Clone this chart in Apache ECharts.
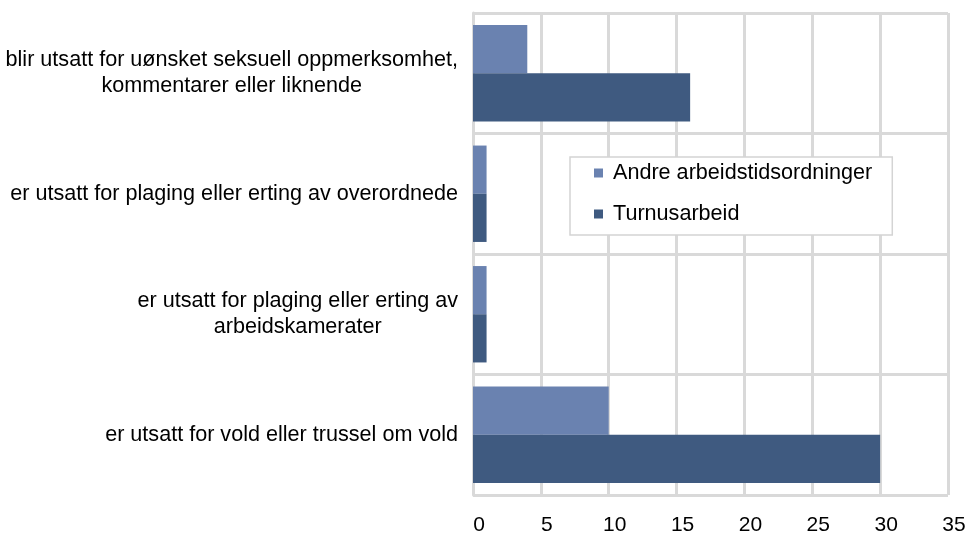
<!DOCTYPE html>
<html>
<head>
<meta charset="utf-8">
<script src="https://cdn.jsdelivr.net/npm/echarts@6/dist/echarts.min.js"></script>
<style>
  html, body { margin: 0; padding: 0; background: #ffffff; }
  #chart { width: 968px; height: 534px; }
</style>
</head>
<body>
<div id="chart"></div>
<script>
// Categories, listed top to bottom
const categories = [
  'blir utsatt for uønsket seksuell oppmerksomhet,\nkommentarer eller liknende',
  'er utsatt for plaging eller erting av overordnede',
  'er utsatt for plaging eller erting av\narbeidskamerater',
  'er utsatt for vold eller trussel om vold'
];
const seriesNames = ['Andre arbeidstidsordninger', 'Turnusarbeid'];
const andreValues = [4, 1, 1, 10];
const turnusValues = [16, 1, 1, 30];
const xTicks = [0, 5, 10, 15, 20, 25, 30, 35];

const gridColor = '#d9d9d9';
const fontFamily = '"Liberation Sans", Arial, sans-serif';
const labelSize = 21.6;

const chart = echarts.init(document.getElementById('chart'), null, { renderer: 'canvas' });

chart.setOption({
  animation: false,
  backgroundColor: '#ffffff',
  textStyle: { fontFamily: fontFamily },
  grid: {
    left: 473, right: 20, top: 13, bottom: 39,
    containLabel: false,
    outerBoundsMode: 'none'
  },
  legend: {
    orient: 'vertical',
    left: 570,
    top: 157,
    backgroundColor: '#ffffff',
    borderColor: '#d4d4d4',
    borderWidth: 1.5,
    padding: [5, 20, 10, 24],
    itemGap: 19,
    itemWidth: 9,
    itemHeight: 9,
    icon: 'rect',
    data: seriesNames,
    textStyle: { fontSize: labelSize, color: '#000000', fontFamily: fontFamily, padding: [0, 0, 0, 5] }
  },
  xAxis: {
    type: 'value',
    min: xTicks[0],
    max: xTicks[xTicks.length - 1],
    interval: xTicks[1] - xTicks[0],
    axisLine: { show: false },
    axisTick: { show: false },
    axisLabel: { fontSize: 21, color: '#000000', margin: 20, padding: [0, 0, 0, 12] },
    splitLine: { show: true, lineStyle: { color: gridColor, width: 3 } }
  },
  yAxis: {
    type: 'category',
    inverse: true,
    data: categories,
    axisLine: { show: true, lineStyle: { color: gridColor, width: 3 } },
    axisTick: { show: false },
    splitLine: { show: true, lineStyle: { color: gridColor, width: 3 } },
    axisLabel: {
      margin: 15,
      color: '#000000',
      fontSize: labelSize,
      lineHeight: 26,
      formatter: function (v) {
        return v.split('\n').map(function (s) { return '{c|' + s + '}'; }).join('\n');
      },
      rich: {
        c: { align: 'center', fontSize: labelSize, lineHeight: 26, color: '#000000', fontFamily: fontFamily }
      }
    }
  },
  series: [
    {
      name: seriesNames[0],
      type: 'bar',
      data: andreValues,
      barGap: '0%',
      barCategoryGap: '20%',
      itemStyle: { color: '#6a82b0' }
    },
    {
      name: seriesNames[1],
      type: 'bar',
      data: turnusValues,
      barGap: '0%',
      barCategoryGap: '20%',
      itemStyle: { color: '#3f5a80' }
    }
  ]
});
</script>
</body>
</html>
